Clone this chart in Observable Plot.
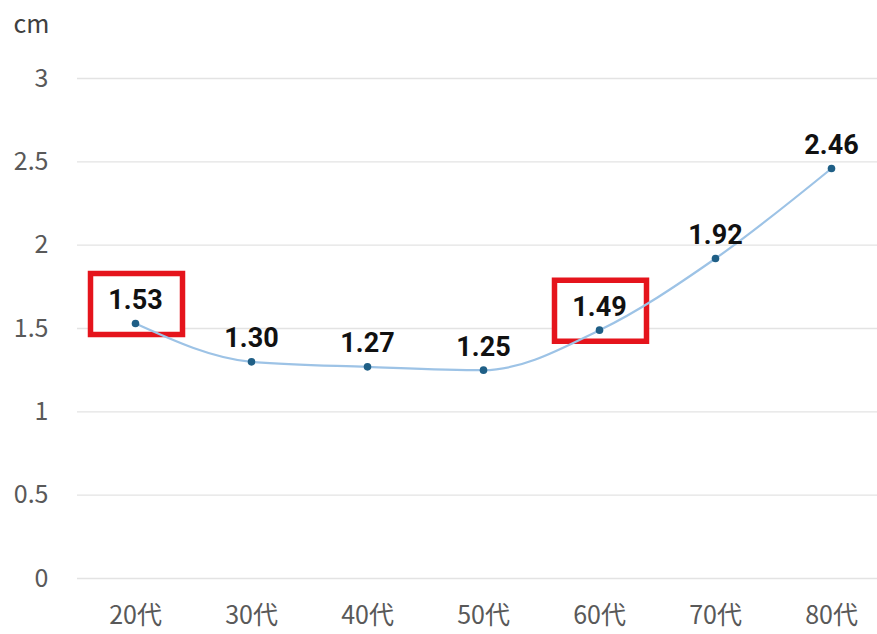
<!DOCTYPE html>
<html>
<head>
<meta charset="utf-8">
<script src="https://cdn.jsdelivr.net/npm/d3@7"></script>
<script src="https://cdn.jsdelivr.net/npm/@observablehq/plot@0.6"></script>
<style>
  html, body { margin: 0; padding: 0; background: #fff; }
  #chart { width: 877px; height: 634px; }
</style>
</head>
<body>
<div id="chart"></div>
<script>
const ages = ["20代", "30代", "40代", "50代", "60代", "70代", "80代"];
const values = [1.53, 1.30, 1.27, 1.25, 1.49, 1.92, 2.46];
const labels = ["1.53", "1.30", "1.27", "1.25", "1.49", "1.92", "2.46"];
const highlighted = ["20代", "60代"];
const yTicks = [0, 0.5, 1, 1.5, 2, 2.5, 3];
const unitLabel = "cm";

const data = ages.map((a, i) => ({age: a, value: values[i], label: labels[i]}));
const boxData = data.filter(d => highlighted.includes(d.age));

const boxSymbol = {
  draw(context) {
    context.rect(-45, -50, 92, 61);
  }
};

const fontAxis = "'Noto Sans CJK JP', 'Noto Sans', sans-serif";
const fontLabel = "Roboto, 'Noto Sans', sans-serif";

const chart = Plot.plot({
  width: 877,
  height: 634,
  marginLeft: 135,
  marginRight: 46,
  marginTop: 78,
  marginBottom: 56,
  style: {fontFamily: fontAxis, background: "#fff"},
  x: {type: "point", domain: ages, padding: 0},
  y: {domain: [0, 3]},
  marks: [
    Plot.ruleY(yTicks, {stroke: "#e3e3e3", strokeWidth: 1.3, insetLeft: -58, insetRight: -46}),
    Plot.axisY({ticks: yTicks, tickSize: 0, tickPadding: 87, label: null,
      fontSize: 25, fill: "#595959", tickFormat: d => String(d)}),
    Plot.axisX({tickSize: 0, tickPadding: 28, label: null, fontSize: 25, fill: "#595959"}),
    Plot.text([unitLabel], {frameAnchor: "top-left", textAnchor: "start", dx: -122, dy: -63,
      fontSize: 25, fill: "#404040"}),
    Plot.dot(boxData, {x: "age", y: "value", symbol: boxSymbol, r: 10,
      stroke: "#e5141c", strokeWidth: 5.5, fill: "#fff"}),
    Plot.line(data, {x: "age", y: "value", stroke: "#9dc3e6", strokeWidth: 2.2, curve: "monotone-x"}),
    Plot.dot(data, {x: "age", y: "value", r: 3.8, fill: "#1f5f86", stroke: "none"}),
    Plot.text(data, {x: "age", y: "value", text: "label", dy: -23, fontSize: 27,
      fontWeight: "bold", fill: "#111", fontFamily: fontLabel})
  ]
});
document.getElementById("chart").appendChild(chart);
</script>
</body>
</html>
